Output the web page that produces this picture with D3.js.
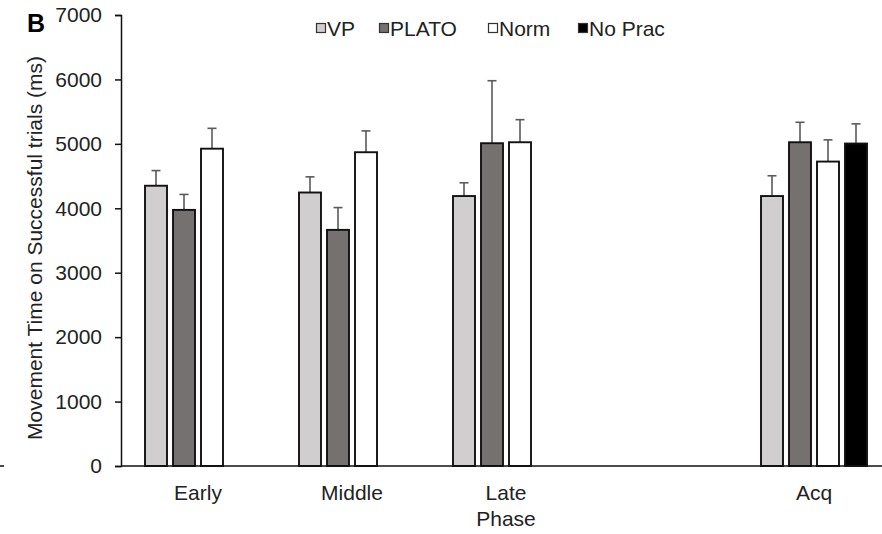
<!DOCTYPE html>
<html>
<head>
<meta charset="utf-8">
<script src="https://cdn.jsdelivr.net/npm/d3@7"></script>
<style>
    body { margin: 0; background: #fff; }
    svg { display: block; font-family: "Liberation Sans", Arial, sans-serif; }
</style>
</head>
<body>
<div class="chartdiv"></div>
<script>
//global data
var phases = ["Early", "Middle", "Late", "", "Acq"];
var groups = ["VP", "PLATO", "Norm", "No Prac"];
var vpMeans = [4350, 4245, 4190, null, 4190];
var vpErrs = [235, 243, 206, null, 315];
var platoMeans = [3975, 3665, 5010, null, 5025];
var platoErrs = [240, 346, 970, null, 310];
var normMeans = [4925, 4870, 5025, null, 4725];
var normErrs = [316, 331, 350, null, 337];
var noPracMeans = [null, null, null, null, 5005];
var noPracErrs = [null, null, null, null, 305];
var yTicks = [0, 1000, 2000, 3000, 4000, 5000, 6000, 7000];
var fills = ["#d0cece", "#767171", "#ffffff", "#000000"];

var width = 882;
var height = 534;

window.onload = drawChart();

function drawChart(){

    var svg = d3.select("div.chartdiv")
        .append("svg")
        .attr("width", width)
        .attr("height", height);

    //scales
    var x = d3.scaleBand()
        .domain(phases)
        .range([121, 891]);

    var y = d3.scaleLinear()
        .domain([0, 7000])
        .range([466, 15]);

    var slot = 28;
    var barWidth = 22;

    //gather bars from the series arrays
    var means = [vpMeans, platoMeans, normMeans, noPracMeans];
    var errs = [vpErrs, platoErrs, normErrs, noPracErrs];
    var bars = [];
    for (var g = 0; g < groups.length; g++){
        for (var p = 0; p < phases.length; p++){
            if (means[g][p] != null){
                bars.push({phase: phases[p], g: g, value: means[g][p], err: errs[g][p]});
            };
        };
    };

    function barX(d){
        return x(d.phase) + x.bandwidth() / 2 + (d.g - 1.5) * slot - barWidth / 2;
    };

    //error bars first (under bars)
    var errG = svg.append("g").attr("class", "errors");
    errG.selectAll("line.stem")
        .data(bars)
        .enter()
        .append("line")
        .attr("x1", function(d){ return barX(d) + barWidth / 2; })
        .attr("x2", function(d){ return barX(d) + barWidth / 2; })
        .attr("y1", function(d){ return y(d.value); })
        .attr("y2", function(d){ return y(d.value + d.err); })
        .style("stroke", "#5a5a5a")
        .style("stroke-width", 1.6);
    errG.selectAll("line.cap")
        .data(bars)
        .enter()
        .append("line")
        .attr("x1", function(d){ return barX(d) + barWidth / 2 - 4.5; })
        .attr("x2", function(d){ return barX(d) + barWidth / 2 + 4.5; })
        .attr("y1", function(d){ return y(d.value + d.err); })
        .attr("y2", function(d){ return y(d.value + d.err); })
        .style("stroke", "#5a5a5a")
        .style("stroke-width", 1.6);

    //bars
    svg.selectAll(".bar")
        .data(bars)
        .enter()
        .append("rect")
        .attr("class", "bar")
        .attr("x", barX)
        .attr("width", barWidth)
        .attr("y", function(d){ return y(d.value); })
        .attr("height", function(d){ return y(0) - y(d.value); })
        .style("fill", function(d){ return fills[d.g]; })
        .style("stroke", "#111")
        .style("stroke-width", 1.9);

    //y axis
    var yAxis = svg.append("g")
        .attr("transform", "translate(121,0)")
        .call(d3.axisLeft(y).tickValues(yTicks).tickFormat(d3.format("d")).tickSize(6).tickPadding(13));
    yAxis.selectAll("text")
        .style("font-size", "21px")
        .style("fill", "#222")
        .style("font-family", "Liberation Sans, Arial, sans-serif");
    yAxis.selectAll("line, path").style("stroke", "#111").style("stroke-width", 1.5);

    //x axis line
    svg.append("line")
        .attr("x1", 121).attr("x2", width)
        .attr("y1", y(0)).attr("y2", y(0))
        .style("stroke", "#111").style("stroke-width", 1.5);
    svg.append("line")
        .attr("x1", 0).attr("x2", 4)
        .attr("y1", y(0)).attr("y2", y(0))
        .style("stroke", "#111").style("stroke-width", 1.5);

    //category labels
    svg.selectAll(".xlabel")
        .data(phases.filter(function(p){ return p != ""; }))
        .enter()
        .append("text")
        .attr("class", "xlabel")
        .attr("x", function(d){ return x(d) + x.bandwidth() / 2; })
        .attr("y", 500)
        .attr("text-anchor", "middle")
        .style("font-size", "21px")
        .style("fill", "#222")
        .text(function(d){ return d; });

    svg.append("text")
        .attr("x", 506)
        .attr("y", 526)
        .attr("text-anchor", "middle")
        .style("font-size", "21px")
        .style("fill", "#222")
        .text("Phase");

    //y axis title
    svg.append("text")
        .attr("transform", "translate(42,248) rotate(-90)")
        .attr("text-anchor", "middle")
        .style("font-size", "21px")
        .style("fill", "#222")
        .text("Movement Time on Successful trials (ms)");

    //panel letter
    svg.append("text")
        .attr("x", 27)
        .attr("y", 32)
        .style("font-size", "25px")
        .style("font-weight", "bold")
        .text("B");

    //legend
    var legendX = [316, 379, 488, 578];
    var legend = svg.selectAll(".legend")
        .data(groups)
        .enter()
        .append("g")
        .attr("class", "legend")
        .attr("transform", function(d, i){ return "translate(" + legendX[i] + ",0)"; });
    legend.append("rect")
        .attr("x", 0.5)
        .attr("y", 23.5)
        .attr("width", 9)
        .attr("height", 9)
        .style("fill", function(d, i){ return fills[i]; })
        .style("stroke", "#333")
        .style("stroke-width", 1.2);
    legend.append("text")
        .attr("x", 11)
        .attr("y", 36)
        .style("font-size", "21px")
        .style("fill", "#222")
        .text(function(d){ return d; });
};
</script>
</body>
</html>
